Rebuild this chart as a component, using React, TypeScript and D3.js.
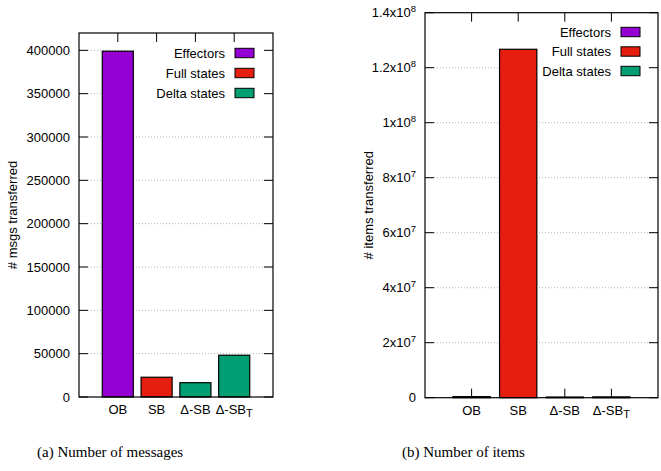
import React from "react";
import * as d3 from "d3";

const categories = ["OB", "SB", "Δ-SB", "Δ-SB_T"];
const seriesOfCategory = [0, 1, 2, 2];
const legendLabels = ["Effectors", "Full states", "Delta states"];
const seriesColors = ["#9400d3", "#e51e10", "#009e73"];
const msgValues = [399000, 22800, 16500, 48200];
const itemValues = [400000, 126700000, 250000, 300000];
const msgTicks = [0, 50000, 100000, 150000, 200000, 250000, 300000, 350000, 400000];
const itemTickMantissa = ["0", "2", "4", "6", "8", "1", "1.2", "1.4"];
const itemTickExp = ["", "7", "7", "7", "7", "8", "8", "8"];
const itemTicks = [0, 2e7, 4e7, 6e7, 8e7, 1e8, 1.2e8, 1.4e8];
const captions = ["(a) Number of messages", "(b) Number of items"];
const yTitles = ["# msgs transferred", "# items transferred"];

const FONT = "'Liberation Sans', Arial, Helvetica, sans-serif";

type PanelProps = {
  left: number; right: number; top: number; bottom: number;
  values: number[]; yMax: number; ticks: number[];
  tickLabel: (i: number) => React.ReactNode;
  yTitle: string; yTitleX: number;
  keyBox: [number, number, number, number];
  keyTextX: number; keyTop: number; keyStep: number;
};

function CatLabel({ c, x, y }: { c: string; x: number; y: number }) {
  if (c.endsWith("_T")) {
    return (
      <text x={x} y={y} textAnchor="middle" fontSize={13} fontFamily={FONT}>
        {c.slice(0, -2)}
        <tspan dy={3} fontSize={11}>T</tspan>
      </text>
    );
  }
  return (
    <text x={x} y={y} textAnchor="middle" fontSize={13} fontFamily={FONT}>{c}</text>
  );
}

function Panel(p: PanelProps) {
  const x = d3.scaleLinear().domain([-1, 4]).range([p.left, p.right]);
  const y = d3.scaleLinear().domain([0, p.yMax]).range([p.bottom, p.top]);
  const bw = x(0.4) - x(0);
  const tl = 9;
  return (
    <g>
      {/* grid */}
      {p.ticks.map((t, i) =>
        i === 0 || t === p.yMax ? null : (
          <line key={"g" + i} x1={p.left} x2={p.right} y1={y(t)} y2={y(t)}
            stroke="#a0a0a0" strokeWidth={0.8} strokeDasharray="1,2" />
        )
      )}
      {/* key box (opaque) */}
      <rect x={p.keyBox[0]} y={p.keyBox[1]} width={p.keyBox[2] - p.keyBox[0]}
        height={p.keyBox[3] - p.keyBox[1]} fill="#fff" />
      {/* y ticks */}
      {p.ticks.map((t, i) => (
        <g key={"yt" + i}>
          <line x1={p.left} x2={p.left + tl} y1={y(t)} y2={y(t)} stroke="#000" strokeWidth={1} />
          <line x1={p.right} x2={p.right - tl} y1={y(t)} y2={y(t)} stroke="#000" strokeWidth={1} />
          <text x={p.left - 9} y={y(t)} dy="0.35em" textAnchor="end" fontSize={13} fontFamily={FONT}>
            {p.tickLabel(i)}
          </text>
        </g>
      ))}
      {/* x ticks */}
      {categories.map((c, i) => (
        <g key={"xt" + i}>
          <line x1={x(i)} x2={x(i)} y1={p.top} y2={p.top + tl} stroke="#000" strokeWidth={1} />
          <line x1={x(i)} x2={x(i)} y1={p.bottom} y2={p.bottom - tl} stroke="#000" strokeWidth={1} />
          <CatLabel c={c} x={x(i)} y={p.bottom + 17} />
        </g>
      ))}
      {/* bars */}
      {p.values.map((v, i) => (
        <rect key={"b" + i} x={x(i) - bw} width={2 * bw} y={y(v)} height={Math.max(p.bottom - y(v), 0.5)}
          fill={seriesColors[seriesOfCategory[i]]} stroke="#000" strokeWidth={1.2} />
      ))}
      {/* legend */}
      {legendLabels.map((l, i) => (
        <g key={"l" + i}>
          <text x={p.keyTextX} y={p.keyTop + i * p.keyStep} dy="0.35em" textAnchor="end"
            fontSize={13} fontFamily={FONT}>{l}</text>
          <rect x={p.keyTextX + 10} y={p.keyTop + i * p.keyStep - 4.7} width={19} height={9.4}
            fill={seriesColors[i]} stroke="#000" strokeWidth={1} />
        </g>
      ))}
      {/* frame */}
      <rect x={p.left} y={p.top} width={p.right - p.left} height={p.bottom - p.top}
        fill="none" stroke="#000" strokeWidth={1.2} />
      {/* y title */}
      <text transform={`translate(${p.yTitleX},${(p.top + p.bottom) / 2}) rotate(-90)`}
        textAnchor="middle" dy="0.35em" fontSize={13} fontFamily={FONT}>{p.yTitle}</text>
    </g>
  );
}

export default function App() {
  return (
    <svg width={661} height={471} style={{ position: "absolute", left: 0, top: 0, background: "#fff" }}>
      <rect x={0} y={0} width={661} height={471} fill="#fff" />
      <Panel left={79} right={273} top={33} bottom={397}
        values={msgValues} yMax={420000} ticks={msgTicks}
        tickLabel={(i) => String(msgTicks[i])}
        yTitle={yTitles[0]} yTitleX={12}
        keyBox={[134, 40, 264, 104]} keyTextX={225} keyTop={53} keyStep={20} />
      <Panel left={425} right={658} top={12.7} bottom={397.7}
        values={itemValues} yMax={1.4e8} ticks={itemTicks}
        tickLabel={(i) =>
          itemTickExp[i] === "" ? itemTickMantissa[i] : (
            <>
              {itemTickMantissa[i] + "x10"}
              <tspan dy={-5} fontSize={9.5}>{itemTickExp[i]}</tspan>
            </>
          )
        }
        yTitle={yTitles[1]} yTitleX={368}
        keyBox={[537, 20, 648, 80]} keyTextX={611} keyTop={32} keyStep={19.5} />
      <text x={37} y={457} fontSize={15} fontFamily="'Liberation Serif', 'Times New Roman', serif">{captions[0]}</text>
      <text x={402} y={457} fontSize={15} fontFamily="'Liberation Serif', 'Times New Roman', serif">{captions[1]}</text>
    </svg>
  );
}
